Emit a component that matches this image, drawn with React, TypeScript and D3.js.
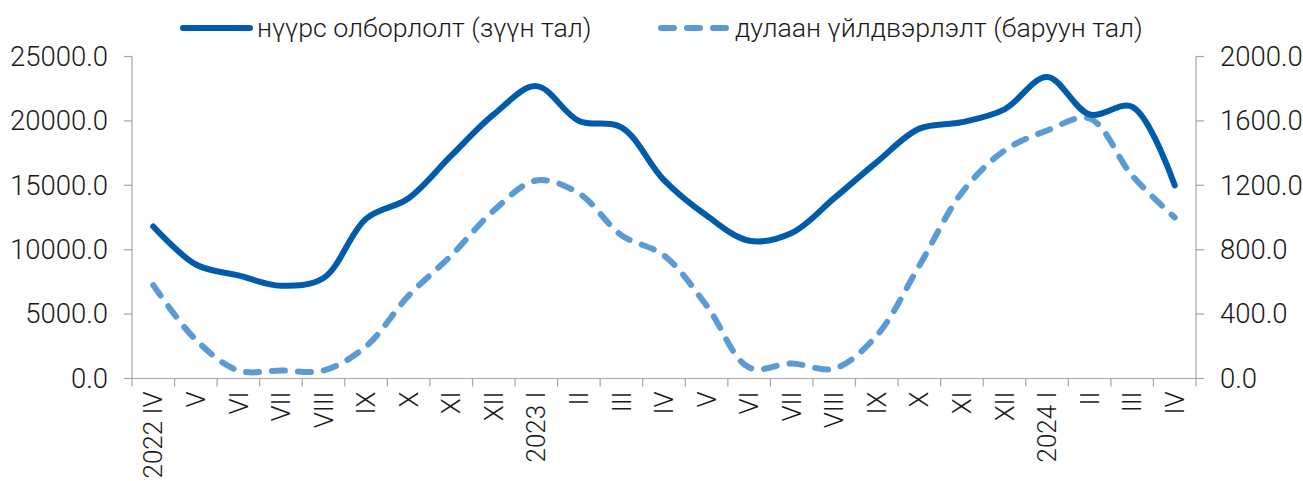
import React, { useEffect, useRef } from 'react';
import * as d3 from 'd3';

const categories = [
  '2022 IV', 'V', 'VI', 'VII', 'VIII', 'IX', 'X', 'XI', 'XII',
  '2023 I', 'II', 'III', 'IV', 'V', 'VI', 'VII', 'VIII', 'IX', 'X', 'XI', 'XII',
  '2024 I', 'II', 'III', 'IV',
];

// нүүрс олборлолт, left axis
const coal = [
  11800, 8850, 8000, 7200, 7800, 12400, 14000, 17300, 20500,
  22700, 20000, 19500, 15400, 12650, 10700, 11300, 14000, 16800, 19400, 19900, 20900,
  23400, 20500, 21100, 15000,
];

// дулаан үйлдвэрлэлт, right axis
const heat = [
  580, 240, 50, 50, 50, 200, 515, 764, 1043,
  1230, 1150, 890, 764, 453, 68, 93, 62, 267, 702, 1155, 1416,
  1540, 1615, 1260, 1000,
];

const leftTicks = [0, 5000, 10000, 15000, 20000, 25000];
const rightTicks = [0, 400, 800, 1200, 1600, 2000];

const legendItems = [
  { label: 'нүүрс олборлолт (зүүн тал)', color: '#005BAA', dash: null },
  { label: 'дулаан үйлдвэрлэлт (баруун тал)', color: '#5B9BD5', dash: '13 13' },
];

const W = 1303;
const H = 481;
const FONT = 'Roboto, sans-serif';
const FS = 27.5;

export default function App() {
  const ref = useRef<SVGSVGElement | null>(null);

  useEffect(() => {
    document.body.style.margin = '0';
    const svg = d3.select(ref.current);
    svg.selectAll('*').remove();

    const left = 132;
    const right = 1196;
    const top = 56.5;
    const bottom = 378.5;

    const x = d3.scaleBand().domain(categories.map((_, i) => String(i))).range([left, right]);
    const yL = d3.scaleLinear().domain([0, 25000]).range([bottom, top]);
    const yR = d3.scaleLinear().domain([0, 2000]).range([bottom, top]);
    const cx = (i: number) => (x(String(i)) as number) + x.bandwidth() / 2;

    const axisColor = '#a6a6a6';
    const textColor = '#1a1a1a';

    // left axis
    const gL = svg.append('g');
    gL.append('line').attr('x1', left).attr('x2', left).attr('y1', top).attr('y2', bottom)
      .attr('stroke', axisColor).attr('stroke-width', 1.2);
    gL.selectAll('line.t').data(leftTicks).enter().append('line')
      .attr('x1', left - 8).attr('x2', left).attr('y1', d => yL(d)).attr('y2', d => yL(d))
      .attr('stroke', axisColor).attr('stroke-width', 1.2);
    gL.selectAll('text').data(leftTicks).enter().append('text')
      .attr('x', 108).attr('y', d => yL(d)).attr('dy', '0.34em')
      .attr('text-anchor', 'end').attr('font-family', FONT).attr('font-weight', 300)
      .attr('font-size', FS).attr('fill', textColor)
      .text(d => d.toFixed(1));

    // right axis
    const gR = svg.append('g');
    gR.append('line').attr('x1', right).attr('x2', right).attr('y1', top).attr('y2', bottom)
      .attr('stroke', axisColor).attr('stroke-width', 1.2);
    gR.selectAll('line.t').data(rightTicks).enter().append('line')
      .attr('x1', right).attr('x2', right + 8).attr('y1', d => yR(d)).attr('y2', d => yR(d))
      .attr('stroke', axisColor).attr('stroke-width', 1.2);
    gR.selectAll('text').data(rightTicks).enter().append('text')
      .attr('x', 1220).attr('y', d => yR(d)).attr('dy', '0.34em')
      .attr('text-anchor', 'start').attr('font-family', FONT).attr('font-weight', 300)
      .attr('font-size', FS).attr('fill', textColor)
      .text(d => d.toFixed(1));

    // x axis
    const gX = svg.append('g');
    gX.append('line').attr('x1', left).attr('x2', right).attr('y1', bottom).attr('y2', bottom)
      .attr('stroke', axisColor).attr('stroke-width', 1.2);
    const bounds = d3.range(categories.length + 1).map(i => left + i * x.bandwidth());
    gX.selectAll('line.t').data(bounds).enter().append('line')
      .attr('x1', d => d).attr('x2', d => d).attr('y1', bottom).attr('y2', bottom + 8)
      .attr('stroke', axisColor).attr('stroke-width', 1.2);
    gX.selectAll('text').data(categories).enter().append('text')
      .attr('transform', (_, i) => `translate(${cx(i)},${bottom + 13}) rotate(-90)`)
      .attr('text-anchor', 'end').attr('dy', '0.35em')
      .attr('font-family', FONT).attr('font-weight', 300).attr('font-size', 26)
      .attr('fill', textColor)
      .text(d => d);

    const curve = d3.curveCatmullRom.alpha(0.5);

    svg.append('path').datum(heat)
      .attr('fill', 'none').attr('stroke', '#5B9BD5').attr('stroke-width', 6)
      .attr('stroke-linecap', 'round').attr('stroke-dasharray', '13 13')
      .attr('d', d3.line<number>().x((_, i) => cx(i)).y(d => yR(d)).curve(curve));

    svg.append('path').datum(coal)
      .attr('fill', 'none').attr('stroke', '#005BAA').attr('stroke-width', 6)
      .attr('stroke-linecap', 'round')
      .attr('d', d3.line<number>().x((_, i) => cx(i)).y(d => yL(d)).curve(curve));

    // legend
    const legendX = [180, 658];
    const lg = svg.append('g').selectAll('g').data(legendItems).enter().append('g')
      .attr('transform', (_, i) => `translate(${legendX[i]},28)`);
    lg.append('line').attr('x1', 3).attr('x2', 70).attr('y1', 0).attr('y2', 0)
      .attr('stroke', d => d.color).attr('stroke-width', 6).attr('stroke-linecap', 'round')
      .attr('stroke-dasharray', d => d.dash);
    lg.append('text').attr('x', 77).attr('dy', '0.34em')
      .attr('font-family', FONT).attr('font-weight', 300).attr('font-size', 26.7)
      .attr('fill', textColor).text(d => d.label);
  }, []);

  return <svg ref={ref} width={W} height={H} style={{ display: 'block', background: '#fff' }} />;
}
